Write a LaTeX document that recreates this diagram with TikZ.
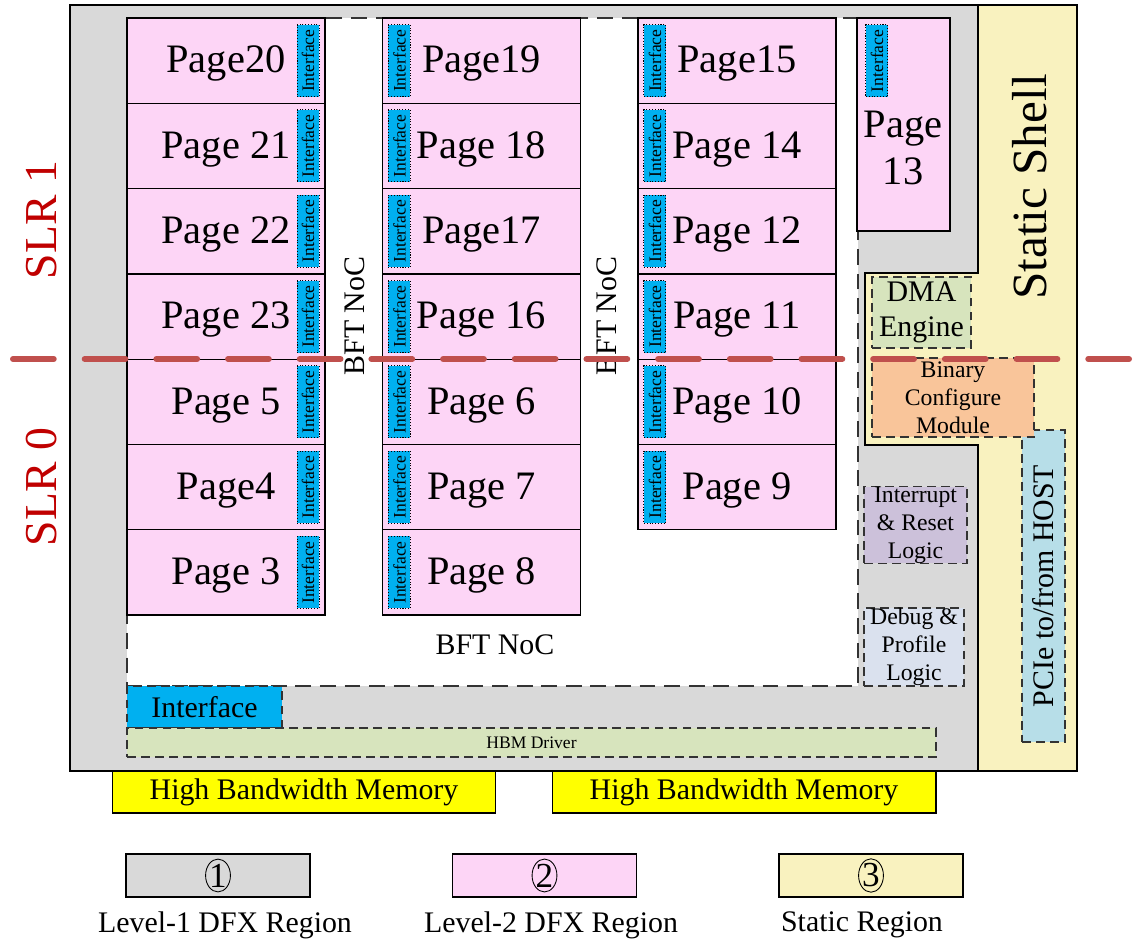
\documentclass[tikz,border=0pt]{standalone}
\usepackage{fontspec}
\setmainfont{Liberation Serif}
\usetikzlibrary{positioning,shapes.geometric}
\definecolor{lvlone}{HTML}{D9D9D9}
\definecolor{lvltwo}{HTML}{FDD5F6}
\definecolor{shell}{HTML}{F9F2BF}
\definecolor{iface}{HTML}{00B0F0}
\definecolor{hbm}{HTML}{FFFF00}
\definecolor{drv}{HTML}{D7E4BD}
\definecolor{bcm}{HTML}{F9C59A}
\definecolor{irq}{HTML}{CCC1DA}
\definecolor{dbg}{HTML}{DAE1EE}
\definecolor{pcie}{HTML}{B7DEE8}
\definecolor{slrline}{HTML}{C0504D}
\definecolor{slrtext}{HTML}{C00000}
\definecolor{edge}{HTML}{333333}

\begin{document}
\begin{tikzpicture}[x=0.02cm, y=-0.02cm,
  page/.style={draw, line width=0.7pt, fill=lvltwo, minimum width=3.96cm,
               minimum height=1.706cm, inner sep=0pt, text height=18.5pt, text depth=4.5pt,
               font=\fontsize{23}{27}\selectfont},
  tag/.style={draw, densely dotted, line width=0.6pt, fill=iface, minimum width=0.44cm,
              minimum height=1.44cm, inner sep=0pt, font=\fontsize{10}{10}\selectfont},
  mod/.style={draw=edge, dash pattern=on 5pt off 3pt, line width=0.8pt, inner sep=0pt,
              align=center, font=\fontsize{13.5}{16}\selectfont},
  lbl/.style={font=\fontsize{17}{20}\selectfont},
  legend/.style={draw, line width=0.8pt, minimum width=3.68cm, minimum height=0.86cm},
  num/.style={draw, ellipse, line width=0.5pt, inner sep=0pt, minimum width=0.44cm,
              minimum height=0.62cm, font=\fontsize{20}{20}\selectfont}]
  \useasboundingbox (0,0) rectangle (1139,942);

  % regions
  \fill[lvlone] (70,5) rectangle (978,771);
  \fill[shell] (978,5) rectangle (1077,771);
  \fill[shell] (865,273) rectangle (978,445);
  \draw[line width=0.8pt] (978,5) -- (978,273) -- (865,273) -- (865,445) -- (978,445) -- (978,771);
  \draw[edge, line width=0.8pt, dash pattern=on 9pt off 5pt, fill=white] (127,18) rectangle (858,686);
  \draw[line width=1.2pt] (70,5) rectangle (1077,771);

  % pages
  \foreach \n/\t [count=\i from 0] in {20/Page20,21/Page 21,22/Page 22,23/Page 23,5/Page 5,4/Page4,3/Page 3}{
    \node[page] (pg\n) at (226,60.65+85.3*\i) {\t};
    \node[tag, left=0.12cm of pg\n.east] (tg\n) {\rotatebox{90}{Interface}};
  }
  \foreach \n/\t [count=\i from 0] in {19/Page19,18/Page 18,17/Page17,16/Page 16,6/Page 6,7/Page 7,8/Page 8}{
    \node[page] (pg\n) at (481.5,60.65+85.3*\i) {\t};
    \node[tag, right=0.12cm of pg\n.west] (tg\n) {\rotatebox{90}{Interface}};
  }
  \foreach \n/\t [count=\i from 0] in {15/Page15,14/Page 14,12/Page 12,11/Page 11,10/Page 10,9/Page 9}{
    \node[page] (pg\n) at (737,60.65+85.3*\i) {\t};
    \node[tag, right=0.12cm of pg\n.west] (tg\n) {\rotatebox{90}{Interface}};
  }
  \node[page, minimum width=1.86cm, minimum height=4.26cm] (pg13) at (903.5,124.5) {};
  \node[tag, below right=0.14cm and 0.18cm of pg13.north west] (tg13) {\rotatebox{90}{Interface}};
  \node[font=\fontsize{23}{27}\selectfont, align=center] (pg13t) at (903,148) {Page\\13};

  % noc labels
  \node[lbl, rotate=90] (noca) at (355,316) {BFT NoC};
  \node[lbl, rotate=90] (nocb) at (607,316) {BFT NoC};
  \node[lbl] (nocc) at (495,645) {BFT NoC};

  % shell modules
  \node[mod, fill=drv, minimum width=1.98cm, minimum height=1.42cm,
        font=\fontsize{17}{20}\selectfont] (dma) at (921.5,312.5) {DMA\\Engine};
  \node[mod, fill=pcie, minimum width=0.86cm, minimum height=6.24cm,
        font=\fontsize{17}{20}\selectfont] (pcie) at (1043.5,586) {\rotatebox{90}{PCIe to/from HOST}};
  \node[mod, fill=bcm, minimum width=3.24cm, minimum height=1.58cm] (bcm) at (953,397.5) {Binary\\Configure\\Module};
  \node[mod, fill=irq, minimum width=2.06cm, minimum height=1.52cm] (irq) at (915.5,525) {Interrupt\\\& Reset\\Logic};
  \node[mod, fill=dbg, minimum width=2.0cm, minimum height=1.56cm] (dbg) at (914,647) {Debug \&\\Profile\\Logic};
  \node[rotate=90, font=\fontsize{28}{30}\selectfont] (shelltxt) at (1030,187) {Static Shell};

  % memory side
  \node[mod, fill=iface, minimum width=3.1cm, minimum height=0.84cm,
        font=\fontsize{17}{20}\selectfont] (ifbar) at (204.5,707) {Interface};
  \node[mod, fill=drv, minimum width=16.18cm, minimum height=0.58cm,
        font=\fontsize{10}{12}\selectfont] (hbmdrv) at (531.5,742.5) {HBM Driver};
  \node[lbl, draw, line width=0.6pt, fill=hbm, minimum width=7.68cm, minimum height=0.84cm] (hbma) at (304,792) {High Bandwidth Memory};
  \node[lbl, draw, line width=0.6pt, fill=hbm, minimum width=7.68cm, minimum height=0.84cm] (hbmb) at (744,792) {High Bandwidth Memory};

  % slr split
  \draw[slrline, line width=3.4pt, line cap=round, dash pattern=on 23.2pt off 17.6pt] (13,359) -- (1139,359);
  \node[rotate=90, text=slrtext, font=\fontsize{26}{28}\selectfont] (slra) at (42,220) {SLR 1};
  \node[rotate=90, text=slrtext, font=\fontsize{26}{28}\selectfont] (slrb) at (42,487) {SLR 0};

  % legend
  \node[legend, fill=lvlone] (lga) at (218,875.5) {};
  \node[legend, fill=lvltwo] (lgb) at (544.5,875.5) {};
  \node[legend, fill=shell] (lgc) at (871,875.5) {};
  \node[num] (numa) at (lga) {1};
  \node[num] (numb) at (lgb) {2};
  \node[num] (numc) at (lgc) {3};
  \node[lbl] (lgta) at (225,925) {Level-1 DFX Region};
  \node[lbl] (lgtb) at (551,925) {Level-2 DFX Region};
  \node[lbl] (lgtc) at (862,925) {Static Region};
\end{tikzpicture}
\end{document}
